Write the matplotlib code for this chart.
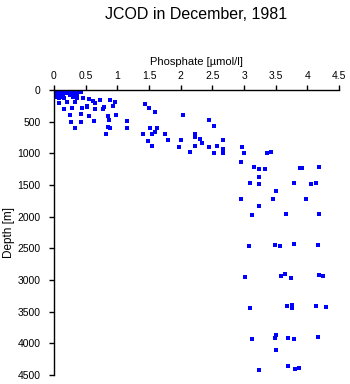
import matplotlib.pyplot as plt
import numpy as np

plt.rcParams['font.family'] = ['Liberation Sans', 'DejaVu Sans']

# phosphate [umol/l] and depth [m]
phosphate = [
    # near-surface cluster
    0.0, 0.02, 0.04, 0.0, 0.05, 0.08, 0.1, 0.12, 0.03, 0.06, 0.1, 0.14, 0.15,
    0.02, 0.08, 0.13, 0.17, 0.2, 0.22, 0.26, 0.28, 0.3, 0.32, 0.35, 0.38, 0.4,
    0.43, 0.3, 0.25, 0.37,
    # upper layer
    0.08, 0.08, 0.16, 0.21, 0.16, 0.28, 0.34, 0.36, 0.46, 0.52, 0.44, 0.62,
    0.73, 0.65, 0.88, 0.97, 0.93, 0.65, 0.77, 0.79, 0.53, 0.55, 0.25, 0.42,
    0.55, 0.64, 0.86, 0.98, 0.87, 0.27, 0.42, 0.85, 0.88, 1.15, 1.16, 0.33,
    0.82,
    # thermocline
    1.43, 1.50, 1.60, 2.03, 2.44, 2.52, 1.52, 1.63, 1.60, 1.41, 1.55, 1.76,
    2.23, 2.22, 1.49, 1.80, 2.01, 2.31, 2.33, 2.66, 1.55, 1.98, 2.22, 2.44,
    2.58, 2.66, 2.14, 2.53, 2.66,
    # deep water
    2.97, 3.00, 3.36, 3.43, 2.95, 3.15, 3.23, 3.33, 3.88, 3.92, 4.19, 3.24,
    3.10, 3.24, 3.78, 4.06, 4.13, 3.51, 2.95, 3.46, 3.98, 3.23, 3.13, 3.66,
    4.19, 3.07, 3.49, 3.56, 3.78, 4.17, 3.02, 3.58, 3.65, 3.74, 4.19, 4.24,
    3.09, 3.67, 3.75, 3.75, 4.13, 4.30, 3.13, 3.51, 3.49, 3.69, 3.78, 4.16,
    3.51, 3.23, 3.69, 3.81, 3.86,
]
depth = [
    0, 10, 20, 40, 50, 0, 30, 10, 80, 100, 70, 20, 60,
    120, 125, 110, 0, 50, 20, 10, 40, 70, 20, 50, 30, 10,
    40, 110, 80, 100,
    131, 210, 131, 184, 300, 279, 195, 131, 131, 247, 289, 174,
    158, 210, 158, 195, 258, 300, 300, 263, 263, 142, 395, 384,
    405, 490, 405, 400, 468, 510, 510, 579, 605, 490, 595, 605,
    700,
    226, 289, 342, 400, 474, 573, 600, 605, 658, 700, 695, 690,
    700, 747, 800, 795, 795, 779, 842, 795, 890, 900, 884, 895,
    890, 937, 985, 1000, 1000,
    895, 995, 1000, 985, 1142, 1220, 1247, 1242, 1237, 1237, 1221, 1368,
    1463, 1490, 1474, 1484, 1468, 1600, 1726, 1721, 1716, 1837, 1974, 1958,
    1963, 2463, 2443, 2468, 2427, 2453, 2958, 2932, 2906, 2963, 2927, 2943,
    3448, 3416, 3390, 3448, 3411, 3432, 3937, 3874, 3921, 3906, 3932, 3900,
    4105, 4426, 4353, 4400, 4385,
]

x_ticks = [0, 0.5, 1, 1.5, 2, 2.5, 3, 3.5, 4, 4.5]
x_labels = ['0', '0.5', '1', '1.5', '2', '2.5', '3', '3.5', '4', '4.5']
y_ticks = [0, 500, 1000, 1500, 2000, 2500, 3000, 3500, 4000, 4500]

fig = plt.figure(figsize=(3.5, 3.84), dpi=100)
ax = fig.add_axes([0.154, 0.023, 0.815, 0.743])

ax.plot(phosphate, depth, 's', color='#0000ff', markersize=2.2, markeredgewidth=0)

ax.set_xlim(0, 4.5)
ax.set_ylim(4500, 0)
ax.xaxis.tick_top()
ax.xaxis.set_label_position('top')
ax.set_xticks(x_ticks)
ax.set_xticklabels(x_labels)
ax.set_yticks(y_ticks)
ax.tick_params(direction='out', length=3.5, width=1, labelsize=7.5, pad=3)
ax.tick_params(axis='y', pad=6)
ax.spines['right'].set_visible(False)
ax.spines['bottom'].set_visible(False)
for s in ['top', 'left']:
    ax.spines[s].set_linewidth(1)

ax.set_xlabel('Phosphate [µmol/l]', fontsize=8, labelpad=4)
ax.set_ylabel('Depth [m]', fontsize=8.5, labelpad=2)
ax.set_title('JCOD in December, 1981', fontsize=11.5, pad=51)

fig.savefig('out.png', dpi=100)
